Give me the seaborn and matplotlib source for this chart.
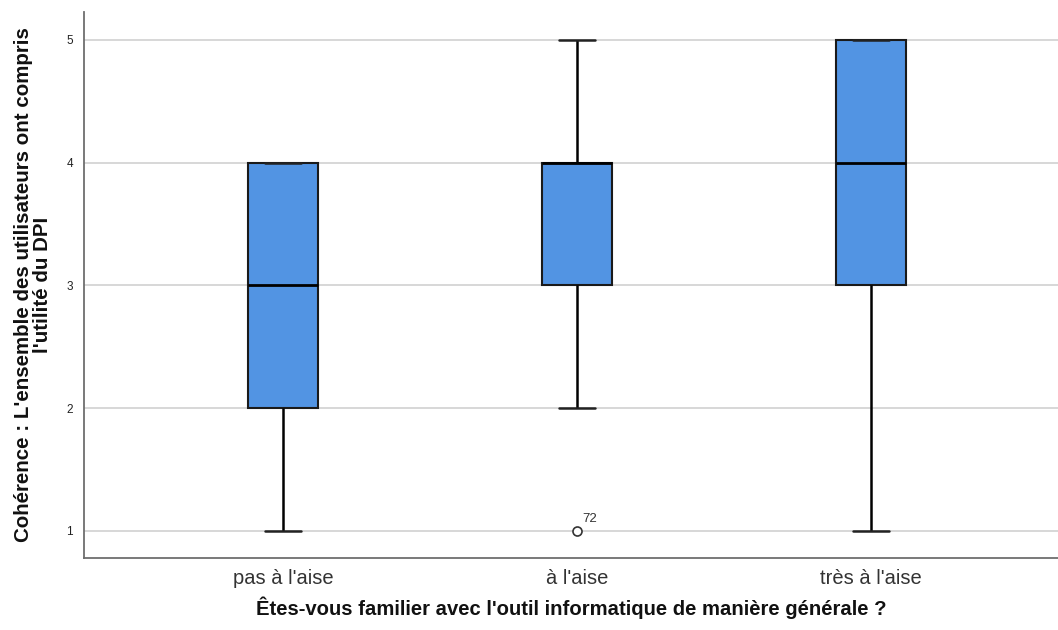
import matplotlib
matplotlib.use("Agg")
import matplotlib.pyplot as plt
from matplotlib import cbook
import numpy as np
import pandas as pd
import seaborn as sns

# Likert answers (1-5) per familiarity group
categories = ["pas à l'aise", "à l'aise", "très à l'aise"]
scores_pas_aise = [1, 2, 2, 3, 3, 3, 4, 4, 4]
scores_aise = [1, 2, 2, 3, 3, 3, 3, 3, 4, 4, 4, 4, 4, 4, 4, 4, 4, 5, 5, 5]
scores_tres_aise = [1, 2, 3, 3, 3, 4, 4, 4, 5, 5, 5, 5]
# case numbers of the outlying answers, in order of value
outlier_cases = {"à l'aise": ["72"]}
y_ticks = [1, 2, 3, 4, 5]

groups = [scores_pas_aise, scores_aise, scores_tres_aise]
df = pd.DataFrame({
    "groupe": np.repeat(categories, [len(g) for g in groups]),
    "score": np.concatenate(groups),
})

sns.set_theme(style="white")
plt.rcParams["font.family"] = ["Liberation Sans", "DejaVu Sans"]

fig = plt.figure(figsize=(10.58, 6.30), dpi=100)
ax = fig.add_axes([84 / 1058, 72 / 630, 1 - 84 / 1058, 546 / 630])

ax.set_axisbelow(True)
ax.yaxis.grid(True, color="#d4d4d4", linewidth=1.3)
ax.xaxis.grid(False)

box_color = "#5294e3"
line_color = "#1a1a1a"
sns.boxplot(
    data=df, x="groupe", y="score", order=categories, ax=ax,
    width=0.24, color=box_color, linecolor=line_color, linewidth=1.5,
    saturation=1,
    whiskerprops=dict(color="#000000", linewidth=1.8),
    capprops=dict(color="#222222", linewidth=1.8),
    medianprops=dict(color="#000000", linewidth=2.0),
    flierprops=dict(marker="o", markersize=6.5, markerfacecolor="white",
                    markeredgecolor="#333333", markeredgewidth=1.2),
)

# label the outliers with their case numbers
for i, (name, vals) in enumerate(zip(categories, groups)):
    fliers = sorted(cbook.boxplot_stats(np.asarray(vals, float))[0]["fliers"])
    for val, case in zip(fliers, outlier_cases.get(name, [])):
        ax.annotate(case, xy=(i, val), xytext=(4, 4), textcoords="offset points",
                    fontsize=9.5, color="#333333", ha="left", va="bottom")

ax.set_xlim(-0.677, 2.636)
ax.set_ylim(0.78, 5.228)
ax.set_yticks(y_ticks)
ax.set_yticklabels([str(t) for t in y_ticks], fontsize=8.5, color="#222222")
ax.tick_params(axis="x", labelsize=14.5, colors="#333333", length=0, pad=8)
ax.tick_params(axis="y", length=0, pad=8)

for side in ["top", "right"]:
    ax.spines[side].set_visible(False)
for side in ["left", "bottom"]:
    ax.spines[side].set_color("#6e6e6e")
    ax.spines[side].set_linewidth(1.3)

ax.set_xlabel("Êtes-vous familier avec l'outil informatique de manière générale ?",
              fontsize=14.6, fontweight="bold", color="#111111", labelpad=6)
ax.set_ylabel("Cohérence : L'ensemble des utilisateurs ont compris\nl'utilité du DPI",
              fontsize=14.8, fontweight="bold", color="#111111", labelpad=10,
              linespacing=1.0)

fig.savefig("out.png", dpi=100)
